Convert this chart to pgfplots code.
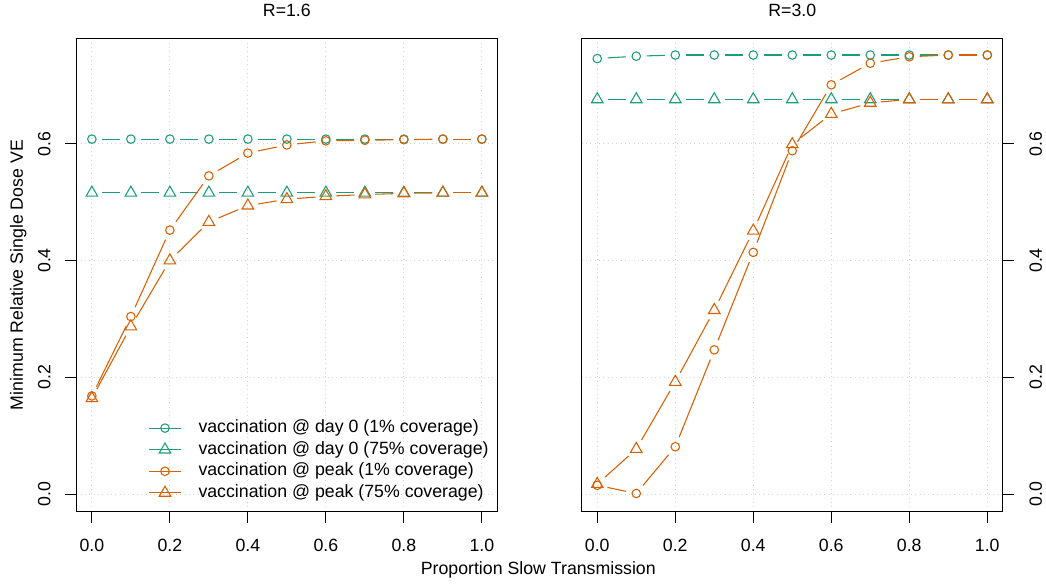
\documentclass[border=0pt]{standalone}
\usepackage{fontspec}
\setmainfont{Liberation Sans}
\usepackage{pgfplots}
\usepackage{pgfplotstable}
\pgfplotsset{compat=1.18}
\definecolor{dgreen}{RGB}{27,158,119}
\definecolor{dorange}{RGB}{217,95,2}
\definecolor{lgray}{RGB}{211,211,211}

\pgfplotstableread{
x gc gt oc ot
0.0 0.608 0.516 0.168 0.164
0.1 0.608 0.516 0.304 0.287
0.2 0.608 0.516 0.452 0.400
0.3 0.608 0.516 0.545 0.466
0.4 0.608 0.516 0.584 0.494
0.5 0.608 0.516 0.598 0.505
0.6 0.608 0.516 0.605 0.510
0.7 0.608 0.516 0.606 0.513
0.8 0.608 0.516 0.607 0.515
0.9 0.608 0.516 0.608 0.516
1.0 0.608 0.516 0.608 0.516
}\leftdata

\pgfplotstableread{
x gc gt oc ot
0.0 0.746 0.676 0.015 0.017
0.1 0.750 0.676 0.001 0.077
0.2 0.752 0.676 0.081 0.192
0.3 0.752 0.676 0.247 0.315
0.4 0.752 0.676 0.414 0.451
0.5 0.752 0.676 0.588 0.599
0.6 0.752 0.676 0.701 0.651
0.7 0.752 0.676 0.738 0.670
0.8 0.752 0.676 0.749 0.676
0.9 0.752 0.676 0.752 0.676
1.0 0.752 0.676 0.752 0.676
}\rightdata

\newcommand{\gapseries}[4]{%
  \pgfplotsforeachungrouped \i in {0,...,9}{%
    \pgfmathtruncatemacro\j{\i+1}%
    \pgfplotstablegetelem{\i}{x}\of{#1}\let\xa\pgfplotsretval
    \pgfplotstablegetelem{\i}{#2}\of{#1}\let\ya\pgfplotsretval
    \pgfplotstablegetelem{\j}{x}\of{#1}\let\xb\pgfplotsretval
    \pgfplotstablegetelem{\j}{#2}\of{#1}\let\yb\pgfplotsretval
    \edef\tmp{\noexpand\addplot[#3, line width=0.8pt, shorten <=7.8pt, shorten >=7.8pt, forget plot] coordinates {(\xa,\ya) (\xb,\yb)};}\tmp
  }%
  \addplot[#3, only marks, line width=0.8pt, #4, forget plot] table[x=x, y=#2]{#1};
}

\newcommand{\fs}{\fontsize{13.3}{16}\selectfont}

\pgfplotsset{
  panel/.style={
    scale only axis, width=315.9pt, height=355.05pt,
    xmin=-0.04, xmax=1.04, ymin=-0.0303, ymax=0.7806,
    xtick={0,0.2,0.4,0.6,0.8,1}, xticklabels={0.0,0.2,0.4,0.6,0.8,1.0},
    ytick={0,0.2,0.4,0.6}, yticklabels={0.0,0.2,0.4,0.6},
    tick align=outside, major tick length=8.25pt,
    xtick pos=bottom,
    grid=major,
    grid style={lgray, line width=0.75pt, dash pattern=on 0.75pt off 2.5pt},
    axis line style={black, line width=0.75pt},
    every tick/.style={black, line width=0.75pt},
    tick label style={font=\fs},
    xticklabel style={anchor=center, yshift=-17.25pt},
    title style={font=\fs, anchor=center, yshift=15.2pt},
    clip=false,
  },
  cmark/.style={mark=o, mark size=3.2pt},
  tmark/.style={mark=triangle, mark size=5pt},
}

\begin{document}
\begin{tikzpicture}
\path[use as bounding box] (-57.2pt,-53.5pt) rectangle (727.3pt,383.8pt);

\begin{axis}[panel, at={(0pt,0pt)}, anchor=south west,
  title={R=1.6},
  ytick pos=left,
  yticklabel style={rotate=90, anchor=center, yshift=15.75pt},
  legend image code/.code={\draw[mark repeat=2,mark phase=2,#1] plot coordinates {(0pt,0pt) (12pt,0pt) (24pt,0pt)};},
  legend style={at={(axis cs:0.1444,0.1285)}, anchor=north west, draw=none, fill=none,
    inner sep=0pt, row sep=3pt, font=\fs,
    nodes={inner sep=0pt, text height=10pt, text depth=3.2pt},
    /tikz/every odd column/.append style={column sep=12.75pt}},
  legend cell align=left,
]
\gapseries{\leftdata}{gc}{dgreen}{cmark}
\gapseries{\leftdata}{gt}{dgreen}{tmark}
\gapseries{\leftdata}{oc}{dorange}{cmark}
\gapseries{\leftdata}{ot}{dorange}{tmark}
\addlegendimage{dgreen, line width=0.8pt, cmark}
\addlegendentry{vaccination @ day 0 (1\% coverage)}
\addlegendimage{dgreen, line width=0.8pt, tmark}
\addlegendentry{vaccination @ day 0 (75\% coverage)}
\addlegendimage{dorange, line width=0.8pt, cmark}
\addlegendentry{vaccination @ peak (1\% coverage)}
\addlegendimage{dorange, line width=0.8pt, tmark}
\addlegendentry{vaccination @ peak (75\% coverage)}
\end{axis}

\begin{axis}[panel, at={(379.05pt,0pt)}, anchor=south west,
  title={R=3.0},
  ytick pos=right, yticklabel pos=right,
  yticklabel style={rotate=90, anchor=center, yshift=-16.5pt},
]
\gapseries{\rightdata}{gc}{dgreen}{cmark}
\gapseries{\rightdata}{gt}{dgreen}{tmark}
\gapseries{\rightdata}{oc}{dorange}{cmark}
\gapseries{\rightdata}{ot}{dorange}{tmark}
\end{axis}

\node[rotate=90, font=\fs] at (-43.4pt,177.5pt) {Minimum Relative Single Dose VE};
\node[font=\fs] at (346.5pt,-43.7pt) {Proportion Slow Transmission};
\end{tikzpicture}
\end{document}
